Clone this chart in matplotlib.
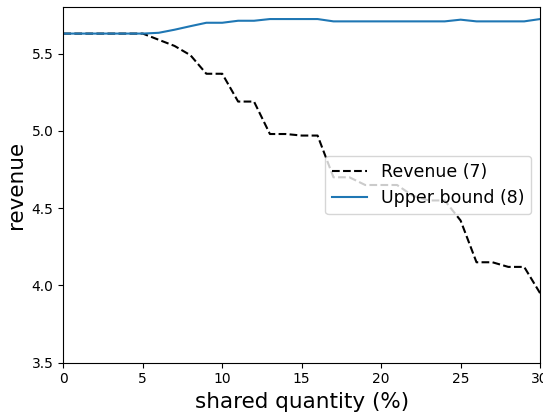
import matplotlib
matplotlib.use("Agg")
import matplotlib.pyplot as plt

# shared quantity in percent
share = list(range(0, 31))

revenue = [5.63, 5.63, 5.63, 5.63, 5.63, 5.63, 5.59, 5.55, 5.49, 5.37,
           5.37, 5.19, 5.19, 4.98, 4.98, 4.97, 4.97, 4.70, 4.70, 4.65,
           4.65, 4.65, 4.58, 4.55, 4.55, 4.42, 4.15, 4.15, 4.12, 4.12,
           3.95]

upper_bound = [5.63, 5.63, 5.63, 5.63, 5.63, 5.63, 5.635, 5.655, 5.678, 5.70,
               5.70, 5.713, 5.713, 5.724, 5.724, 5.724, 5.724, 5.709, 5.709, 5.709,
               5.709, 5.709, 5.709, 5.709, 5.709, 5.72, 5.709, 5.709, 5.709, 5.709,
               5.724]

fig = plt.figure(figsize=(5.43, 4.13), dpi=100)
ax = fig.add_axes([0.1166, 0.1218, 0.878, 0.8605])

ax.plot(share, revenue, 'k--', label="Revenue (7)")
ax.plot(share, upper_bound, '-', color='#1f77b4', label="Upper bound (8)")

ax.set_xlim(0, 30)
ax.set_ylim(3.5, 5.8)
ax.set_xlabel("shared quantity (%)", fontsize=15.5)
ax.set_ylabel("revenue", fontsize=15.5)
ax.legend(loc='center right', fontsize=12.5)

fig.savefig("out.png", dpi=100)
